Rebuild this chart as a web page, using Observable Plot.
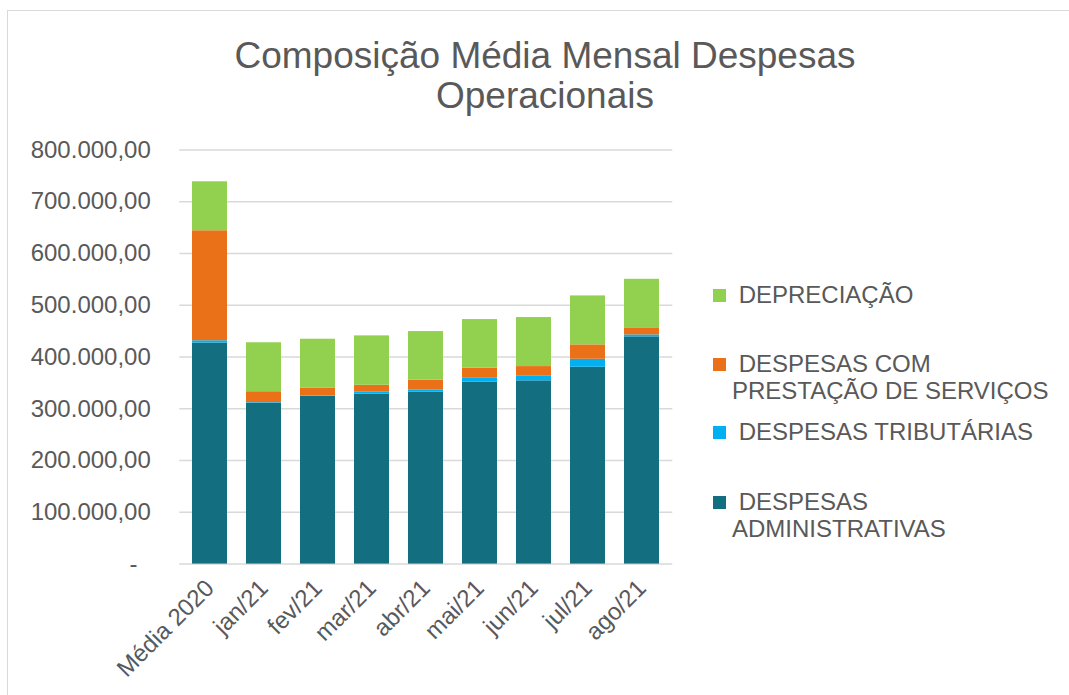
<!DOCTYPE html>
<html>
<head>
<meta charset="utf-8">
<script src="https://cdn.jsdelivr.net/npm/d3@7"></script>
<script src="https://cdn.jsdelivr.net/npm/@observablehq/plot@0.6"></script>
<style>
  html, body { margin: 0; padding: 0; background: #fff; overflow: hidden; }
  #wrap { position: relative; width: 1069px; height: 695px; font-family: "Liberation Sans", Arial, sans-serif; color: #595959; }
  #frame { position: absolute; left: 7px; top: 10px; width: 1200px; height: 800px; border: 1.5px solid #d9d9d9; box-sizing: border-box; }
  #title { position: absolute; left: 0; top: 0; width: 1090px; text-align: center; font-size: 37px; line-height: 40px; padding-top: 36px; }
  #chart { position: absolute; left: 0; top: 130px; }
  .leg { position: absolute; left: 712px; font-size: 24px; line-height: 27px; white-space: nowrap; }
  .sw { position: absolute; left: 0.7px; width: 13px; height: 13px; }
  .lt { position: absolute; left: 20px; top: 0; }
</style>
</head>
<body>
<div id="wrap">
  <div id="frame"></div>
  <div id="title">Composição Média Mensal Despesas<br>Operacionais</div>
  <div id="chart"></div>
  <div id="legend"></div>
</div>
<script>
const categories = ["Média 2020", "jan/21", "fev/21", "mar/21", "abr/21", "mai/21", "jun/21", "jul/21", "ago/21"];
const seriesNames = ["DESPESAS ADMINISTRATIVAS", "DESPESAS TRIBUTÁRIAS", "DESPESAS COM PRESTAÇÃO DE SERVIÇOS", "DEPRECIAÇÃO"];
const administrativas = [427000, 311000, 324000, 328200, 332000, 351300, 354000, 380300, 439000];
const tributarias     = [4500, 1000, 1000, 3800, 4600, 7700, 8900, 15400, 3800];
const prestacao       = [212500, 21000, 14700, 13500, 18600, 19400, 18700, 27800, 13600];
const depreciacao     = [94600, 94600, 94700, 95400, 94000, 94000, 94700, 94600, 93800];
const colors = ["#136F80", "#00B0F0", "#EB7118", "#92D050"];
const yTicks = [0, 100000, 200000, 300000, 400000, 500000, 600000, 700000, 800000];

const seriesValues = [administrativas, tributarias, prestacao, depreciacao];
const data = [];
categories.forEach((c, i) => {
  seriesNames.forEach((s, j) => data.push({cat: c, serie: s, value: seriesValues[j][i]}));
});

const ptBR = d3.formatLocale({decimal: ",", thousands: ".", grouping: [3], currency: ["R$", ""]});
const fmt = ptBR.format(",.2f");

const chart = Plot.plot({
  width: 700,
  height: 565,
  marginLeft: 179.3,
  marginRight: 27.7,
  marginTop: 19.5,
  marginBottom: 131.4,
  style: {fontFamily: '"Liberation Sans", Arial, sans-serif', fontSize: "24px", color: "#595959", background: "transparent", overflow: "visible"},
  x: {domain: categories, paddingInner: 0.356, paddingOuter: 0.178, label: null},
  y: {domain: [0, 800000], label: null},
  color: {domain: seriesNames, range: colors},
  marks: [
    Plot.gridY(yTicks, {stroke: "#d9d9d9", strokeOpacity: 1, strokeWidth: 1.5}),
    Plot.barY(data, Plot.stackY({order: seriesNames}, {x: "cat", y: "value", fill: "serie"})),
    Plot.axisY(yTicks, {tickSize: 0, tickPadding: 29, fontSize: 24, fill: "#595959",
      tickFormat: d => d === 0 ? "-\u00a0\u00a0" : fmt(d)}),
    Plot.axisX({tickSize: 0, tickRotate: -45, tickPadding: 20, fontSize: 24, fill: "#595959"})
  ]
});
document.getElementById("chart").appendChild(chart);

// legend (HTML, beside the chart)
const legendItems = [
  {name: seriesNames[3], color: colors[3], lines: ["\u00a0DEPRECIAÇÃO"], top: 281},
  {name: seriesNames[2], color: colors[2], lines: ["\u00a0DESPESAS COM", "PRESTAÇÃO DE SERVIÇOS"], top: 350},
  {name: seriesNames[1], color: colors[1], lines: ["\u00a0DESPESAS TRIBUTÁRIAS"], top: 418},
  {name: seriesNames[0], color: colors[0], lines: ["\u00a0DESPESAS", "ADMINISTRATIVAS"], top: 487.5}
];
const legend = document.getElementById("legend");
legendItems.forEach(it => {
  const d = document.createElement("div");
  d.className = "leg";
  d.style.top = it.top + "px";
  const sw = document.createElement("div");
  sw.className = "sw";
  sw.style.background = it.color;
  sw.style.top = "8px";
  d.appendChild(sw);
  const t = document.createElement("div");
  t.className = "lt";
  t.innerHTML = it.lines.join("<br>");
  d.appendChild(t);
  legend.appendChild(d);
});
</script>
</body>
</html>
